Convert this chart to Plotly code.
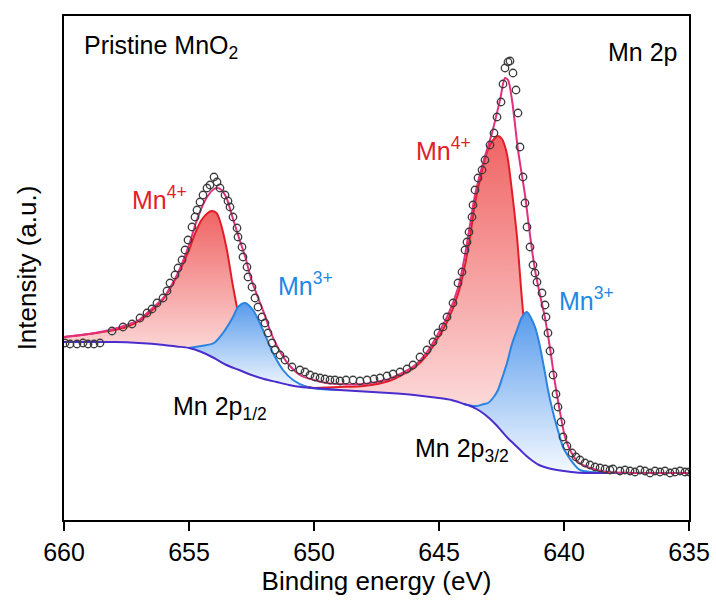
import plotly.graph_objects as go

# ---------------- data (binding energy in eV, intensity in a.u.) ----------------
BG_E = [660, 659, 658, 657, 656, 655.5, 655, 654.5, 654, 653.5, 653, 652.5, 652, 651.5, 651, 650.5,
        650, 649, 648, 647, 646, 645, 644.5, 644, 643.75, 643.5, 643.25, 643, 642.75, 642.5, 642.25,
        642, 641.75, 641.5, 641.25, 641, 640.5, 640, 639.5, 639, 638, 637, 636, 635]
BG_I = [178, 178, 178, 177, 175, 173.5, 172, 168, 162, 155, 150, 145, 141, 138, 135, 133,
        132, 130, 128.5, 127, 125, 122, 120, 116, 114, 111, 107, 102, 96, 89, 82,
        76, 70, 64, 59, 55, 51, 49, 47.5, 47, 47, 47, 47, 47]

MN4_L_E = [660, 659, 658, 657.5, 657, 656.5, 656, 655.5, 655, 654.75, 654.5, 654.25, 654.1, 653.9,
           653.75, 653.5, 653.25, 653.1, 652.9, 652.7, 652.5, 652.25, 652, 651.5, 651, 650.5, 650]
MN4_L_I = [183, 186, 190, 193, 199, 209, 222, 243, 270, 287, 300, 307, 309, 307,
           298, 272, 235, 215, 190, 172, 160, 153, 148, 142, 137, 134, 132]

MN3_L_E = [655, 654.5, 654, 653.64, 653.24, 653.04, 652.76, 652.44, 652.04, 651.64, 651.24,
           650.84, 650.28, 649.76, 649]
MN3_L_I = [172, 174, 177, 187, 203, 213, 217, 210, 190, 167, 150, 140, 133, 131, 130]

MN4_R_E = [650, 649, 648, 647, 646.56, 646.0, 645.48, 645.04, 644.64, 644.24, 643.96, 643.76,
           643.56, 643.32, 643.12, 642.96, 642.8, 642.64, 642.48, 642.32, 642.24, 642.04, 641.88,
           641.76, 641.64, 641.52, 641.4, 641.2, 641.0, 640.5, 640, 639.5, 639, 638]
MN4_R_I = [132, 133, 134, 139, 144, 152, 165, 182, 200, 226, 255, 283,
           317, 345, 365, 375, 381, 384, 381, 370, 360, 320, 283,
           245, 208, 180, 155, 125, 105, 75, 58, 50, 47.5, 47]

MN3_R_E = [644.0, 643.75, 643.48, 643.2, 643.04, 642.84, 642.64, 642.46, 642.28, 642.08, 641.88,
           641.68, 641.48, 641.32, 641.16, 641.0, 640.88, 640.76, 640.64, 640.5, 640.36, 640.2,
           640.04, 639.84, 639.64, 639.36, 638.96, 638.0]
MN3_R_I = [116, 114.5, 114, 116, 117, 122, 130, 143, 157, 176, 190,
           203, 208, 202, 193, 178, 163, 147, 130, 114, 100, 86,
           73, 64, 57, 50, 48, 47]

ENV_E = [660, 659, 658, 657.5, 657, 656.5, 656, 655.5, 655, 654.75, 654.5, 654.25, 654.0, 653.85,
         653.7, 653.5, 653.25, 653.0, 652.75, 652.5, 652.25, 652.0, 651.75, 651.5, 651.25, 651.0,
         650.5, 650.0, 649.5, 649.0, 648.5, 648.0, 647.5, 647.0, 646.56, 646.0, 645.48, 645.04,
         644.64, 644.24, 643.96, 643.76, 643.56, 643.24, 642.88, 642.56, 642.36, 642.24, 642.08,
         641.84, 641.56, 641.36, 641.16, 640.96, 640.76, 640.56, 640.36, 640.16, 639.96, 639.76,
         639.44, 638.96, 638.28, 636.96, 635.0]
ENV_I = [183, 186, 191, 195, 200, 211, 223, 244, 275, 295, 312, 324, 331, 332,
         330, 322, 302, 282, 263, 240, 223, 207, 189, 175, 164, 155,
         144, 140, 137, 136, 135.5, 136, 138, 141, 146, 154, 168, 186,
         205, 232, 265, 295, 325, 357, 387, 420, 442, 440, 420,
         370, 325, 285, 250, 225, 202, 172, 137, 108, 83, 70,
         58, 52, 48, 47, 47]

DATA_E = [659.96, 659.76, 659.48, 659.24, 659.04, 658.8, 658.56, 658.08, 657.64, 657.28, 656.96,
          656.68, 656.48, 656.28, 656.04, 655.88, 655.76, 655.56, 655.44, 655.28, 655.16, 655.04,
          654.88, 654.76, 654.68, 654.56, 654.44, 654.28, 654.16, 654.0, 653.88, 653.76, 653.56,
          653.44, 653.36, 653.24, 653.08, 653.04, 652.88, 652.84, 652.68, 652.64, 652.48, 652.36,
          652.24, 652.08, 651.96, 651.84, 651.68, 651.56, 651.36, 651.16, 650.88, 650.56, 650.36,
          650.16, 649.96, 649.76, 649.56, 649.36, 649.16, 648.96, 648.72, 648.44, 648.16, 647.88,
          647.6, 647.36, 647.08, 646.84, 646.56, 646.28, 646.04, 645.76, 645.48, 645.24, 645.04,
          644.84, 644.68, 644.44, 644.24, 644.08, 643.96, 643.88, 643.8, 643.68, 643.64, 643.56,
          643.44, 643.28, 643.16, 642.96, 642.8, 642.68, 642.52, 642.44, 642.36, 642.24, 642.16,
          642.04, 641.92, 641.84, 641.76, 641.64, 641.56, 641.48, 641.36, 641.24, 641.16, 641.08,
          640.88, 640.76, 640.72, 640.64, 640.56, 640.44, 640.32, 640.24, 640.12, 640.04, 639.88,
          639.68, 639.52, 639.36, 639.16, 638.96, 638.76, 638.56, 638.36, 638.16, 638.04, 637.76,
          637.56, 637.36, 637.16, 636.96, 636.76, 636.56, 636.36, 636.16, 635.96, 635.76, 635.56,
          635.36, 635.16, 635.0]
DATA_I = [177, 176, 176, 177, 176, 176, 177, 189, 193, 196, 202,
          207, 211, 217, 222, 229, 237, 245, 252, 260, 270, 280,
          293, 303, 310, 318, 325, 332, 335, 343, 338, 332, 325,
          319, 313, 303, 292, 283, 273, 263, 253, 243, 233, 222,
          213, 203, 197, 187, 177, 170, 165, 160, 153, 150, 148,
          145, 143, 142, 141, 140, 140, 139, 140, 140, 139, 140,
          141, 142, 144, 146, 148, 151, 155, 163, 170, 178, 187,
          193, 203, 217, 237, 248, 270, 278, 288, 303, 315, 330,
          342, 350, 360, 375, 387, 403, 418, 436, 452, 458, 459,
          447, 430, 407, 373, 343, 317, 293, 273, 255, 247, 238,
          227, 215, 203, 187, 169, 145, 126, 113, 98, 83, 74,
          67, 63, 60, 57, 55, 53, 52, 51, 50, 51, 49,
          50, 49, 48, 50, 49, 47, 49, 48, 49, 47, 48,
          49, 48, 48]

X_TICKS = [660, 655, 650, 645, 640, 635]

# ---------------- styling ----------------
FONT = "Liberation Sans, Arial, sans-serif"
C_BG = "#4B2DCD"
C_ENV = "#E2307F"
C_MN4 = "#E11E28"
C_MN3 = "#2A84E0"
SC_MN4 = [[0, "rgb(255,246,246)"], [1, "rgb(240,100,100)"]]
SC_MN3 = [[0, "rgb(244,249,255)"], [1, "rgb(88,155,236)"]]

fig = go.Figure()


def add_component(comp_e, comp_i, color, scale):
    lo, hi = min(comp_e), max(comp_e)
    sub = [(e, v) for e, v in zip(BG_E, BG_I) if lo - 1e-9 <= e <= hi + 1e-9]
    be = [s[0] for s in sub]
    bi = [s[1] for s in sub]
    fig.add_trace(go.Scatter(x=be, y=bi, mode="lines",
                             line=dict(width=0, shape="spline", smoothing=0.8),
                             showlegend=False, hoverinfo="skip"))
    fig.add_trace(go.Scatter(x=comp_e, y=comp_i, mode="lines",
                             line=dict(color=color, width=2, shape="spline", smoothing=0.8),
                             fill="tonexty",
                             fillgradient=dict(type="vertical", colorscale=scale,
                                               start=min(bi), stop=max(comp_i)),
                             showlegend=False))


add_component(MN4_L_E, MN4_L_I, C_MN4, SC_MN4)
add_component(MN4_R_E, MN4_R_I, C_MN4, SC_MN4)
add_component(MN3_L_E, MN3_L_I, C_MN3, SC_MN3)
add_component(MN3_R_E, MN3_R_I, C_MN3, SC_MN3)

fig.add_trace(go.Scatter(x=BG_E, y=BG_I, mode="lines",
                         line=dict(color=C_BG, width=2, shape="spline", smoothing=0.8),
                         showlegend=False))
fig.add_trace(go.Scatter(x=ENV_E, y=ENV_I, mode="lines",
                         line=dict(color=C_ENV, width=2, shape="spline", smoothing=0.8),
                         showlegend=False))
fig.add_trace(go.Scatter(x=DATA_E, y=DATA_I, mode="markers",
                         marker=dict(symbol="circle-open", size=7.5, color="#3c3c3c",
                                     line=dict(width=1.3)),
                         showlegend=False))

ann_font = dict(family=FONT, size=25, color="black")
annotations = [
    dict(x=0.029, y=0.9385, xref="paper", yref="paper", text="Pristine MnO<sub>2</sub>",
         xanchor="left", yanchor="middle", font=ann_font, showarrow=False),
    dict(x=0.984, y=0.9286, xref="paper", yref="paper", text="Mn 2p",
         xanchor="right", yanchor="middle", font=ann_font, showarrow=False),
    dict(x=656.18, y=322, text="Mn<sup>4+</sup>", font=dict(family=FONT, size=25, color="#E3202A"),
         showarrow=False),
    dict(x=650.36, y=236, text="Mn<sup>3+</sup>", font=dict(family=FONT, size=25, color="#1E88E5"),
         showarrow=False),
    dict(x=644.84, y=371, text="Mn<sup>4+</sup>", font=dict(family=FONT, size=25, color="#E3202A"),
         showarrow=False),
    dict(x=639.12, y=221, text="Mn<sup>3+</sup>", font=dict(family=FONT, size=25, color="#1E88E5"),
         showarrow=False),
    dict(x=653.76, y=112, text="Mn 2p<sub>1/2</sub>", font=ann_font, showarrow=False),
    dict(x=644.08, y=70, text="Mn 2p<sub>3/2</sub>", font=ann_font, showarrow=False),
]

fig.update_layout(
    width=716, height=604, autosize=False,
    margin=dict(l=64, r=27, t=16, b=84, autoexpand=False),
    paper_bgcolor="white", plot_bgcolor="white",
    font=dict(family=FONT, size=25, color="black"),
    showlegend=False,
    annotations=annotations,
    xaxis=dict(range=[660, 635], tickvals=X_TICKS, ticktext=[str(t) for t in X_TICKS],
               ticks="outside", ticklen=9, tickwidth=2, tickcolor="black",
               showline=True, linewidth=2, linecolor="black", mirror=True,
               showgrid=False, zeroline=False, automargin=False,
               tickfont=dict(family=FONT, size=25, color="black"),
               title=dict(text="Binding energy (eV)", font=dict(family=FONT, size=26, color="black"),
                          standoff=6)),
    yaxis=dict(range=[0, 504], showticklabels=False, ticks="",
               showline=True, linewidth=2, linecolor="black", mirror=True,
               showgrid=False, zeroline=False, automargin=False,
               title=dict(text="Intensity (a.u.)", font=dict(family=FONT, size=26, color="black"),
                          standoff=18)),
)

fig.write_html("out.html")
